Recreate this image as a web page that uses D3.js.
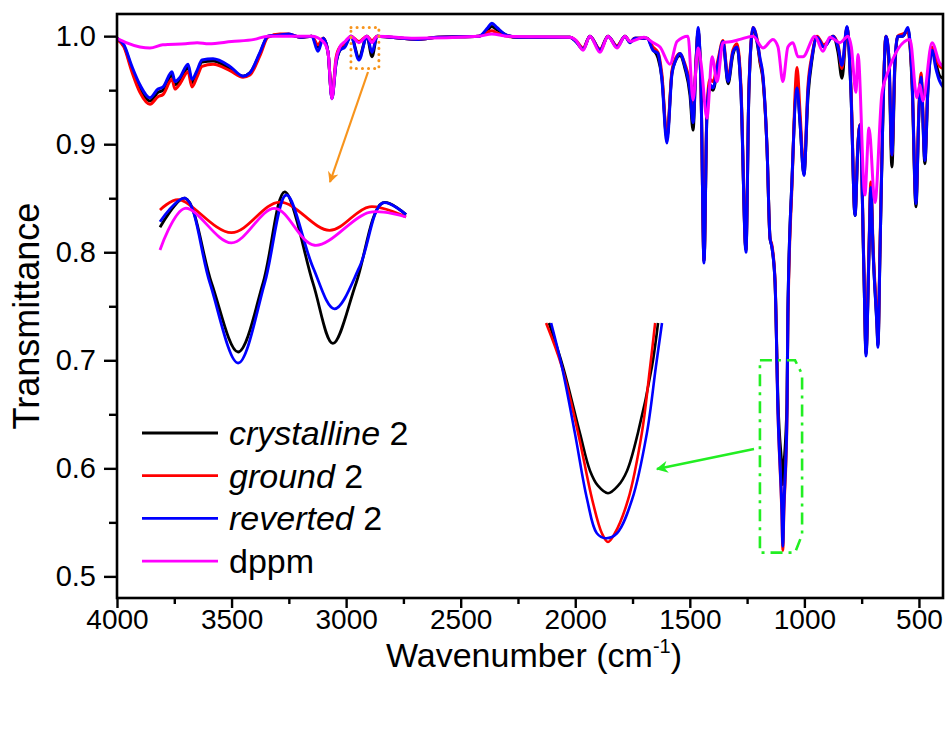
<!DOCTYPE html>
<html>
<head>
<meta charset="utf-8">
<script src="https://cdn.jsdelivr.net/npm/d3@7"></script>
<style>
  body { margin: 0; background: #fff; }
  text { font-family: "Liberation Sans", Arial, sans-serif; }
</style>
</head>
<body>
<div id="chart"></div>
<script>
// wavenumber grid shared by the three samples (cm-1)
const wnSample = [4000,3970,3935,3900,3856,3821,3799,3760,3747,3725,3690,3673,3651,3629,3581,3507,3450,3420,3376,3341,
  3289,3250,3201,3150,3123,3100,3079,3062,3044,3027,3005,2979,2944,2909,2887,2865,2809,2686,2600,2420,
  2381,2364,2342,2300,2250,2023,1997,1966,1936,1892,1857,1818,1783,1761,1740,1687,1661,1639,1622,1600,
  1578,1561,1543,1521,1499,1486,1473,1464,1451,1438,1425,1412,1399,1377,1355,1333,1312,1294,1277,1255,
  1242,1224,1203,1194,1181,1163,1150,1142,1128,1115,1098,1094,1090,1076,1072,1054,1032,1019,1002,984,
  967,945,915,875,853,836,814,797,779,766,757,740,731,718,710,700,683,679,670,657,
  644,631,618,605,592,570,548,530,513,500,491,474,461,443,426,409,395];

const reverted = [0.998,0.992,0.972,0.955,0.943,0.951,0.953,0.967,0.958,0.962,0.974,0.960,0.968,0.978,0.979,0.972,0.963,0.966,0.985,1.000,
  1.001,1.002,0.999,1.000,0.986,0.998,0.985,0.942,0.975,0.987,0.990,1.000,0.978,1.000,0.985,1.000,0.999,0.997,0.999,1.000,
  1.008,1.012,1.008,1.001,0.999,0.999,0.995,0.988,1.000,0.987,1.000,0.990,1.000,0.994,0.998,0.998,0.987,0.984,0.960,0.901,
  0.965,0.978,0.984,0.972,0.950,0.920,0.975,1.008,0.950,0.790,0.930,0.955,0.952,0.975,0.995,0.958,0.985,0.990,0.950,0.800,
  0.950,1.008,0.992,0.980,0.964,0.896,0.813,0.805,0.772,0.650,0.560,0.528,0.560,0.650,0.743,0.867,0.952,0.920,0.871,0.950,
  0.980,0.999,0.990,1.000,0.990,0.973,1.009,0.950,0.834,0.900,0.918,0.780,0.704,0.800,0.860,0.800,0.730,0.712,0.800,0.930,
  1.000,0.980,0.890,0.975,1.000,1.000,1.008,0.960,0.845,0.930,0.962,0.885,0.950,0.987,0.970,0.958,0.953];

const crystalline = [0.998,0.991,0.970,0.952,0.940,0.948,0.950,0.964,0.955,0.959,0.971,0.957,0.966,0.976,0.977,0.970,0.963,0.966,0.984,1.000,
  1.001,1.001,0.999,1.000,0.990,0.998,0.985,0.943,0.975,0.987,0.991,1.000,0.980,1.000,0.981,1.000,0.999,0.997,0.999,1.000,
  1.006,1.009,1.006,1.001,0.999,0.999,0.995,0.988,1.000,0.987,1.000,0.990,1.000,0.994,0.998,0.998,0.988,0.980,0.962,0.905,
  0.966,0.978,0.982,0.970,0.945,0.913,0.975,1.005,0.950,0.792,0.930,0.952,0.950,0.973,0.993,0.956,0.983,0.990,0.950,0.802,
  0.950,1.006,0.990,0.976,0.960,0.896,0.813,0.805,0.772,0.660,0.600,0.585,0.600,0.660,0.743,0.867,0.955,0.920,0.872,0.945,
  0.978,0.999,0.990,1.000,0.985,0.961,1.008,0.950,0.834,0.900,0.918,0.780,0.706,0.800,0.860,0.800,0.732,0.714,0.800,0.930,
  1.000,0.975,0.879,0.970,1.000,1.000,1.006,0.955,0.842,0.930,0.962,0.882,0.950,0.987,0.975,0.963,0.961];

const ground = [0.997,0.990,0.967,0.948,0.937,0.944,0.946,0.960,0.951,0.956,0.967,0.953,0.962,0.972,0.974,0.968,0.962,0.964,0.982,0.999,
  1.002,1.002,0.999,1.000,0.992,0.998,0.985,0.944,0.980,0.990,0.993,1.000,0.995,1.000,0.996,1.000,0.999,0.997,0.999,1.000,
  1.004,1.005,1.003,1.000,0.999,0.999,0.996,0.989,1.000,0.988,1.000,0.991,1.000,0.995,0.998,0.998,0.990,0.985,0.965,0.906,
  0.968,0.980,0.984,0.974,0.955,0.928,0.978,1.004,0.950,0.792,0.935,0.960,0.958,0.978,0.996,0.962,0.987,0.993,0.955,0.803,
  0.952,1.008,0.993,0.978,0.962,0.896,0.813,0.807,0.774,0.650,0.556,0.524,0.556,0.645,0.735,0.862,0.971,0.930,0.875,0.955,
  0.982,1.000,0.992,1.000,0.992,0.970,1.008,0.955,0.836,0.902,0.918,0.785,0.708,0.805,0.865,0.805,0.735,0.716,0.805,0.935,
  1.000,0.980,0.890,0.975,1.000,1.002,1.004,0.960,0.848,0.935,0.966,0.890,0.955,0.990,0.980,0.972,0.970];

// free ligand
const wnDppm = [4000,3960,3900,3856,3800,3700,3650,3600,3500,3400,3341,3150,3100,3079,3062,3044,3027,3005,2979,2944,
  2909,2887,2865,2700,2420,2364,2300,2023,1997,1966,1936,1892,1857,1818,1783,1761,1700,1661,1630,1587,
  1556,1508,1486,1464,1451,1425,1403,1381,1355,1316,1281,1224,1181,1137,1115,1094,1072,1050,1028,1006,
  954,919,889,845,810,795,775,766,736,718,692,662,640,539,509,496,483,443,409,395];
const dppm = [0.998,0.994,0.990,0.989,0.992,0.993,0.994,0.993,0.995,0.997,1.000,1.000,0.995,0.985,0.942,0.978,0.990,0.995,1.000,0.994,
  1.000,0.994,1.000,0.998,1.000,1.002,1.000,0.999,0.996,0.987,1.000,0.985,1.000,0.989,1.000,0.995,0.999,0.994,0.990,0.974,
  0.995,1.000,0.941,0.989,0.975,0.924,0.981,0.958,0.994,0.995,0.997,1.000,0.989,0.997,0.990,0.958,0.990,0.994,0.981,0.981,
  1.000,0.986,0.999,0.994,1.000,0.990,0.948,0.983,0.853,0.915,0.846,0.946,0.964,0.997,0.943,0.955,0.940,0.994,0.975,0.972];

// magnified C-H region (wavenumber, transmittance)
const chCrystalline = [[2991,0.9959],[2976,0.9996],[2960,0.9888],[2944,0.9800],[2929,0.9888],[2916,1.0004],[2899,0.9888],[2887,0.9811],[2873,0.9888],[2857,0.9990],[2843,0.9975]];
const chReverted = [[2991,0.9966],[2976,0.9996],[2961,0.9888],[2944,0.9786],[2928,0.9888],[2915,1.0000],[2899,0.9908],[2886,0.9855],[2871,0.9908],[2857,0.9990],[2843,0.9975]];
const chGround = [[2991,0.9981],[2980,0.9994],[2948,0.9952],[2919,0.9991],[2889,0.9955],[2865,0.9985],[2843,0.9972]];
const chDppm = [[2991,0.9930],[2976,0.9983],[2948,0.9939],[2922,0.9983],[2898,0.9936],[2865,0.9978],[2843,0.9972]];

// magnified main band near 1094 cm-1
const bandCrystalline = [[1110.4,0.700],[1106.5,0.665],[1101.8,0.612],[1099.0,0.582],[1096.8,0.570],[1094.0,0.564],[1091.2,0.570],[1088.7,0.582],[1085.7,0.612],[1081.8,0.665],[1080.1,0.700]];
const bandGround = [[1111.2,0.700],[1106.8,0.665],[1102.3,0.612],[1098.4,0.559],[1095.7,0.532],[1094.0,0.525],[1092.1,0.532],[1088.4,0.559],[1084.6,0.612],[1082.3,0.665],[1080.9,0.700]];
const bandReverted = [[1109.8,0.700],[1106.8,0.665],[1103.2,0.612],[1099.8,0.559],[1097.1,0.532],[1094.6,0.528],[1091.5,0.532],[1087.3,0.559],[1083.2,0.612],[1080.7,0.665],[1079.0,0.700]];

const xTicks = [4000,3500,3000,2500,2000,1500,1000,500];
const xMinor = [3750,3250,2750,2250,1750,1250,750];
const yTicks = [0.5,0.6,0.7,0.8,0.9,1.0];
const yMinor = [0.55,0.65,0.75,0.85,0.95];

const legendNames = ["crystalline", "ground", "reverted", "dppm"];
const colors = ["#000000", "#ff0000", "#0000ff", "#ff00ff"];

const width = 952, height = 731;
const margin = {top: 14, right: 9, bottom: 133, left: 117};

const svg = d3.select("#chart").append("svg")
  .attr("width", width).attr("height", height);

const x = d3.scaleLinear().domain([4000, 395]).range([margin.left, width - margin.right]);
const y = d3.scaleLinear().domain([0.48, 1.0205]).range([height - margin.bottom, margin.top]);

const defs = svg.append("defs");
defs.append("clipPath").attr("id", "plotClip")
  .append("rect")
  .attr("x", margin.left).attr("y", margin.top)
  .attr("width", width - margin.left - margin.right)
  .attr("height", height - margin.top - margin.bottom);

function arrowMarker(id, color) {
  defs.append("marker")
    .attr("id", id)
    .attr("viewBox", "0 0 10 10")
    .attr("refX", 9).attr("refY", 5)
    .attr("markerWidth", 6).attr("markerHeight", 5)
    .attr("markerUnits", "strokeWidth")
    .attr("orient", "auto")
    .append("path").attr("d", "M0,0 L10,5 L0,10 L3,5 Z").attr("fill", color);
}
arrowMarker("arrOrange", "#f7941d");
arrowMarker("arrGreen", "#22ee22");

// spectra
const line = d3.line().x(d => x(d[0])).y(d => y(d[1])).curve(d3.curveMonotoneX);
const plot = svg.append("g").attr("clip-path", "url(#plotClip)");

const sampleSeries = [
  {vals: crystalline, color: colors[0]},
  {vals: ground, color: colors[1]},
  {vals: reverted, color: colors[2]}
];
sampleSeries.forEach(s => {
  plot.append("path")
    .datum(wnSample.map((w, i) => [w, s.vals[i]]))
    .attr("d", line)
    .attr("fill", "none").attr("stroke", s.color)
    .attr("stroke-width", 3).attr("stroke-linejoin", "round");
});
plot.append("path")
  .datum(wnDppm.map((w, i) => [w, dppm[i]]))
  .attr("d", line)
  .attr("fill", "none").attr("stroke", colors[3])
  .attr("stroke-width", 3).attr("stroke-linejoin", "round");

// inset 1: C-H stretch region
const ix = d3.scaleLinear().domain([2991, 2843]).range([160, 406]);
const iy = d3.scaleLinear().domain([1.0, 0.98]).range([195, 352]);
const insetLine = d3.line().x(d => ix(d[0])).y(d => iy(d[1])).curve(d3.curveCatmullRom.alpha(0.5));
[[chCrystalline, colors[0]], [chGround, colors[1]], [chReverted, colors[2]], [chDppm, colors[3]]].forEach(([data, c]) => {
  svg.append("path").datum(data).attr("d", insetLine)
    .attr("fill", "none").attr("stroke", c).attr("stroke-width", 2.8);
});

// inset 2: strongest band
const jx = d3.scaleLinear().domain([1094, 1080]).range([608, 658.4]);
const jy = d3.scaleLinear().domain([0.70, 0.525]).range([323, 542]);
const bandLine = d3.line().x(d => jx(d[0])).y(d => jy(d[1])).curve(d3.curveCatmullRom.alpha(0.5));
[[bandCrystalline, colors[0]], [bandGround, colors[1]], [bandReverted, colors[2]]].forEach(([data, c]) => {
  svg.append("path").datum(data).attr("d", bandLine)
    .attr("fill", "none").attr("stroke", c).attr("stroke-width", 2.6);
});

// orange dotted box + arrow
svg.append("rect")
  .attr("x", x(2979)).attr("y", y(1.008))
  .attr("width", x(2857) - x(2979)).attr("height", y(0.970) - y(1.008))
  .attr("fill", "none").attr("stroke", "#f7941d").attr("stroke-width", 3)
  .attr("stroke-dasharray", "0.1 6").attr("stroke-linecap", "round");
svg.append("line")
  .attr("x1", 368).attr("y1", 72).attr("x2", 330).attr("y2", 182)
  .attr("stroke", "#f7941d").attr("stroke-width", 2.2)
  .attr("marker-end", "url(#arrOrange)");

// green dash-dot box + arrow
const gx0 = x(1194), gx1 = x(1010), gy0 = y(0.70), gy1 = y(0.522);
svg.append("path")
  .attr("d", `M${gx0},${gy0} L${gx1 - 7},${gy0} L${gx1},${gy0 + 14} L${gx1},${gy1 - 18} L${gx1 - 7},${gy1} L${gx0},${gy1} Z`)
  .attr("fill", "none").attr("stroke", "#22ee22").attr("stroke-width", 2.6)
  .attr("stroke-dasharray", "12 6 3 6");
svg.append("line")
  .attr("x1", 754).attr("y1", 449).attr("x2", 657).attr("y2", 469)
  .attr("stroke", "#22ee22").attr("stroke-width", 2.4)
  .attr("marker-end", "url(#arrGreen)");

// axes
const xAxis = svg.append("g")
  .attr("transform", `translate(0,${height - margin.bottom})`)
  .call(d3.axisBottom(x).tickValues(xTicks).tickSize(10).tickPadding(1).tickFormat(d3.format("d")));
svg.append("g")
  .attr("transform", `translate(0,${height - margin.bottom})`)
  .call(d3.axisBottom(x).tickValues(xMinor).tickSize(6).tickFormat(""));
const yAxis = svg.append("g")
  .attr("transform", `translate(${margin.left},0)`)
  .call(d3.axisLeft(y).tickValues(yTicks).tickSize(13).tickPadding(8).tickFormat(d3.format(".1f")));
svg.append("g")
  .attr("transform", `translate(${margin.left},0)`)
  .call(d3.axisLeft(y).tickValues(yMinor).tickSize(8).tickFormat(""));

svg.selectAll(".domain").remove();
svg.selectAll(".tick line").attr("stroke", "#000").attr("stroke-width", 2.4);
xAxis.selectAll("text").attr("font-size", 28).attr("fill", "#000");
yAxis.selectAll("text").attr("font-size", 29).attr("fill", "#000");

svg.append("rect")
  .attr("x", margin.left).attr("y", margin.top)
  .attr("width", width - margin.left - margin.right)
  .attr("height", height - margin.top - margin.bottom)
  .attr("fill", "none").attr("stroke", "#000").attr("stroke-width", 2.6);

// axis titles
const xt = svg.append("text")
  .attr("x", 534).attr("y", 667)
  .attr("text-anchor", "middle").attr("font-size", 34);
xt.append("tspan").text("Wavenumber (cm");
xt.append("tspan").attr("font-size", 20).attr("dy", -14).text("-1");
xt.append("tspan").attr("dy", 14).text(")");

svg.append("text")
  .attr("transform", "translate(39,316) rotate(-90)")
  .attr("text-anchor", "middle").attr("font-size", 36)
  .text("Transmittance");

// legend
const legend = svg.append("g");
legendNames.forEach((name, i) => {
  const ly = 433 + i * 42.7;
  legend.append("line")
    .attr("x1", 142).attr("x2", 218).attr("y1", ly).attr("y2", ly)
    .attr("stroke", colors[i]).attr("stroke-width", 2.8);
  const t = legend.append("text").attr("x", 229).attr("y", ly + 12).attr("font-size", 34);
  if (name === "dppm") {
    t.text(name);
  } else {
    t.append("tspan").attr("font-style", "italic").text(name);
    t.append("tspan").text(" 2");
  }
});
</script>
</body>
</html>
